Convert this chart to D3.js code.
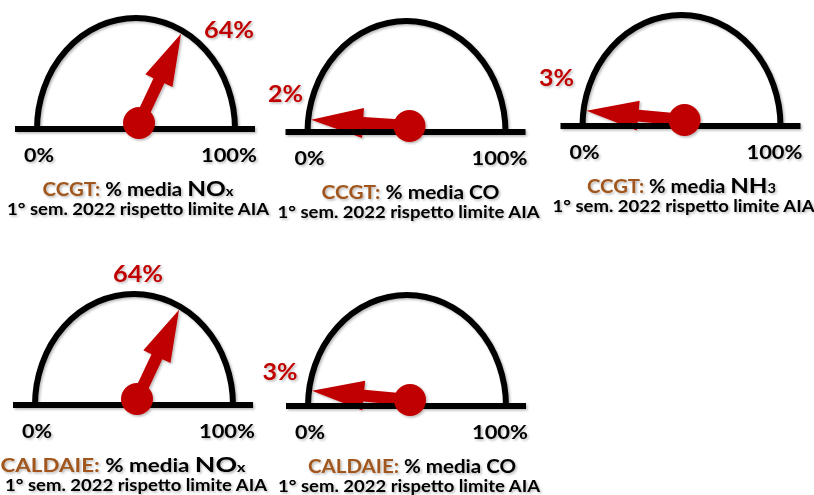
<!DOCTYPE html>
<html>
<head>
<meta charset="utf-8">
<script src="https://cdn.jsdelivr.net/npm/d3@7"></script>
<style>
  html, body { margin: 0; padding: 0; background: #ffffff; }
  svg { display: block; }
  text { font-family: Lato, "Open Sans", "Liberation Sans", sans-serif; font-weight: 700; }
</style>
</head>
<body>
<svg id="chart" width="814" height="495"></svg>
<script>
// Emission gauges: average concentration as a share of the AIA permit limit
const plants = ["CCGT", "CCGT", "CCGT", "CALDAIE", "CALDAIE"];
const pollutantMain = ["NO", "CO", "NH", "NO", "CO"];
const pollutantSub = ["x", "", "3", "x", ""];
const values = [64, 2, 3, 64, 3];
const scaleLabels = ["0%", "100%"];
const periodLabel = "1° sem. 2022 rispetto limite AIA";

// Panel placement (centre of the dial base, value-label offset, caption fit)
const panelCx = [136, 406.5, 681.5, 134, 407];
const panelBase = [129, 132, 126, 405, 406];
const labelDx = [93, -121, -125, 4, -127];
const labelDy = [-91, -30, -40, -123, -26];
const caption1Dx = [2, 4, 0, -11, 5];
const caption1Width = [191, 178, 189, 245, 208];

const RED = "#c00000";
const BROWN = "#a0561c";
const RX = 99, RY = 111;

const svg = d3.select("#chart");

// soft drop shadow used under the drawing and the text
const defs = svg.append("defs");
const f = defs.append("filter").attr("id", "shadow")
  .attr("x", "-20%").attr("y", "-20%").attr("width", "140%").attr("height", "140%");
f.append("feDropShadow").attr("dx", 1.5).attr("dy", 1.5)
  .attr("stdDeviation", 1.2).attr("flood-color", "#000").attr("flood-opacity", 0.28);

// value (0–100 %) -> needle angle, 180° at 0 % down to 0° at 100 %
const angle = d3.scaleLinear().domain([0, 100]).range([Math.PI, 0]);

const data = values.map((v, i) => ({
  i, value: v, plant: plants[i], main: pollutantMain[i], sub: pollutantSub[i],
  cx: panelCx[i], base: panelBase[i]
}));

const g = svg.selectAll("g.gauge").data(data).join("g")
  .attr("class", "gauge")
  .attr("transform", d => `translate(${d.cx},${d.base})`)
  .attr("filter", "url(#shadow)");

// dial outline (half ellipse standing on the base line)
g.append("path")
  .attr("d", `M${-RX},0 A${RX},${RY} 0 0 1 ${RX},0`)
  .attr("fill", "none").attr("stroke", "#000").attr("stroke-width", 6);

// needle: from the hub to the inside of the dial outline
const PIV_DX = 3, PIV_DY = -6;
function needleLength(theta) {
  const a = RX - 3, b = RY - 3;
  const dx = Math.cos(theta), dy = -Math.sin(theta);
  const px = PIV_DX, py = PIV_DY;
  const A = dx * dx / (a * a) + dy * dy / (b * b);
  const B = 2 * (px * dx / (a * a) + py * dy / (b * b));
  const C = px * px / (a * a) + py * py / (b * b) - 1;
  return (-B + Math.sqrt(B * B - 4 * A * C)) / (2 * A);
}

g.append("path")
  .attr("fill", RED)
  .attr("d", d => {
    const L = needleLength(angle(d.value));
    const sw = 6, hl = 52, hw = 15;
    return d3.line()([
      [0, -sw], [L - hl, -sw], [L - hl, -hw], [L, 0],
      [L - hl, hw], [L - hl, sw], [0, sw]
    ]) + "Z";
  })
  .attr("transform", d => `translate(${PIV_DX},${PIV_DY}) rotate(${-angle(d.value) * 180 / Math.PI})`);

// base line
g.append("line")
  .attr("x1", -121).attr("x2", 119).attr("y1", 0).attr("y2", 0)
  .attr("stroke", "#000").attr("stroke-width", 6);

// hub
g.append("circle")
  .attr("cx", PIV_DX).attr("cy", PIV_DY).attr("r", 16).attr("fill", RED);

// scale end labels
g.append("text")
  .attr("x", -RX + 2).attr("y", 33).attr("text-anchor", "middle")
  .attr("font-size", 19.5).attr("fill", "#000")
  .attr("textLength", 30).attr("lengthAdjust", "spacingAndGlyphs")
  .text(scaleLabels[0]);
g.append("text")
  .attr("x", 121).attr("y", 33).attr("text-anchor", "end")
  .attr("font-size", 19.5).attr("fill", "#000")
  .attr("textLength", 56).attr("lengthAdjust", "spacingAndGlyphs")
  .text(scaleLabels[1]);

// value label
g.append("text")
  .attr("x", d => labelDx[d.i]).attr("y", d => labelDy[d.i])
  .attr("text-anchor", "middle")
  .attr("font-size", 22).attr("fill", RED)
  .attr("textLength", d => String(d.value).length === 1 ? 35 : 50)
  .attr("lengthAdjust", "spacingAndGlyphs")
  .text(d => `${d.value}%`);

// caption, first line: plant, measure and pollutant formula
const cap = g.append("text")
  .attr("x", d => caption1Dx[d.i]).attr("y", 67)
  .attr("text-anchor", "middle").attr("font-size", 18).attr("fill", "#000")
  .attr("textLength", d => caption1Width[d.i]).attr("lengthAdjust", "spacingAndGlyphs");
cap.append("tspan").attr("fill", BROWN).text(d => d.plant + ":");
cap.append("tspan").text(" % media ");
cap.append("tspan")
  .attr("font-size", d => d.sub ? 21.5 : 18)
  .text(d => d.main);
cap.filter(d => d.sub).append("tspan")
  .attr("font-size", 13)
  .text(d => d.sub);

// caption, second line: reference period
g.append("text")
  .attr("x", 2).attr("y", 86).attr("text-anchor", "middle")
  .attr("font-size", 17).attr("fill", "#000")
  .attr("textLength", 262).attr("lengthAdjust", "spacingAndGlyphs")
  .text(periodLabel);
</script>
</body>
</html>
